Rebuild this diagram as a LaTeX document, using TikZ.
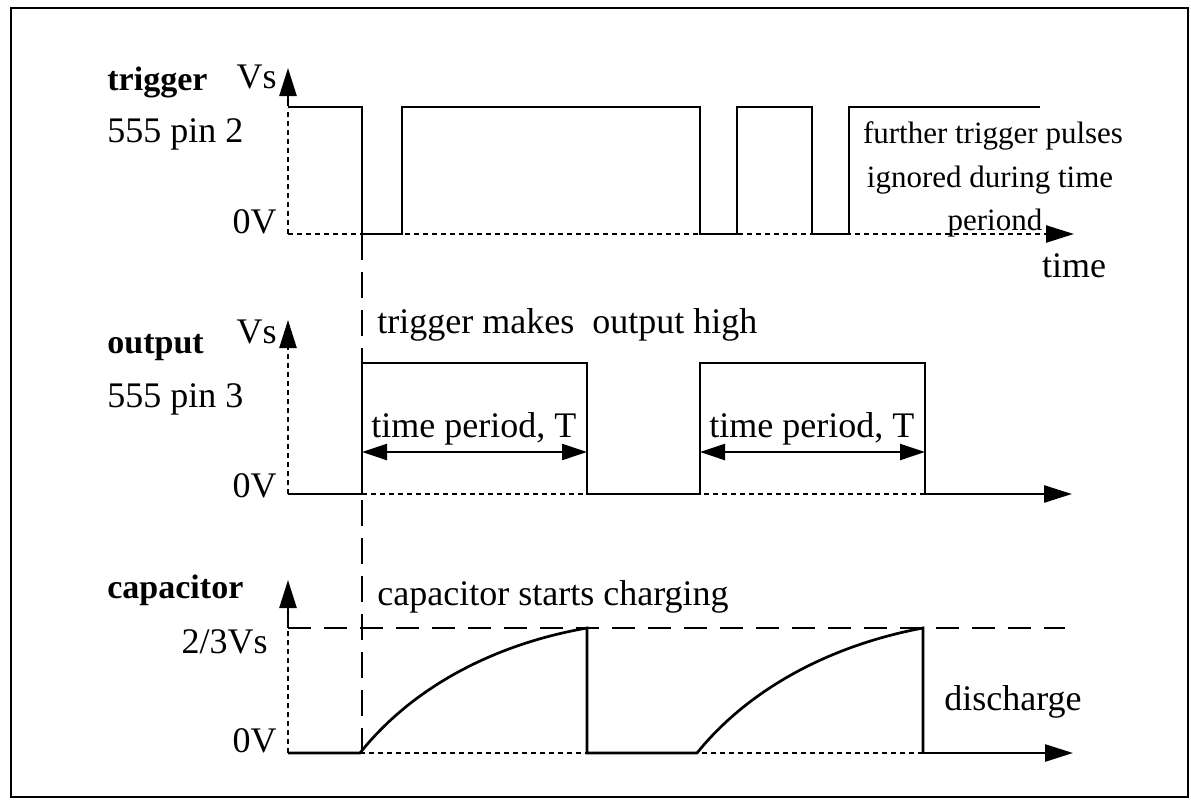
\documentclass[tikz,border=0pt]{standalone}
\usepackage{fontspec}
\setmainfont{Liberation Serif}
\usetikzlibrary{arrows.meta}
\begin{document}
\begin{tikzpicture}[x=0.5pt,y=-0.5pt,
  wave/.style={line width=1.35pt, line join=miter},
  dotline/.style={line width=1.2pt, dash pattern=on 2.5pt off 2pt},
  levelline/.style={line width=1.2pt, dash pattern=on 11.5pt off 6.5pt},
  markline/.style={line width=1.2pt, dash pattern=on 13pt off 6pt},
  tip/.style={-{Triangle[length=14pt,width=8.5pt]}},
  dtip/.style={{Triangle[length=12.5pt,width=8pt]}-{Triangle[length=12.5pt,width=8pt]}},
  lbl/.style={inner sep=0pt, font=\fontsize{18}{20}\selectfont},
  small/.style={inner sep=0pt, font=\fontsize{15.5}{20}\selectfont},
  title/.style={inner sep=0pt, font=\fontsize{17}{20}\selectfont\bfseries},
]
\useasboundingbox (0,0) rectangle (1191,810);
\draw[line width=1.3pt] (11,8) rectangle (1188,797);

% ---------- trigger ----------
\coordinate (tO) at (288,234);
\coordinate (tY) at (288,68);
\coordinate (tX) at (1074,234);
\draw[dotline] (tO) -- (288,108);
\draw[line width=1.2pt, tip] (288,106) -- (tY);
\draw[dotline, tip] (tO) -- (tX);
\draw[wave] (288,107) -| (362,234) -| (402,107) -| (700,234) -| (737,107) -| (812,234) -| (849,107) -- (1040,107);

\node[title, anchor=base west] (trig) at (107,90) {trigger};
\node[lbl, anchor=base east] (tvs) at (277,88) {Vs};
\node[lbl, anchor=base west] (tpin) at (107,142) {555 pin 2};
\node[lbl, anchor=base east] (t0v) at (277,233) {0V};
\node[small, anchor=base] (f1) at (993,143) {further trigger pulses};
\node[small, anchor=base] (f2) at (990,187) {ignored during time};
\node[small, anchor=base] (f3) at (995,230) {periond};
\node[lbl, anchor=base] (time) at (1074,277) {time};

% ---------- marker ----------
\coordinate (m1) at (362,234);
\coordinate (m2) at (362,752);
\draw[markline] (m1) -- (m2);

% ---------- output ----------
\coordinate (oO) at (288,494);
\coordinate (oY) at (288,320);
\draw[dotline] (oO) -- (288,352);
\draw[line width=1.2pt, tip] (288,350) -- (oY);
\draw[dotline] (362,494) -- (925,494);
\draw[wave] (oO) -| (362,363) -| (587,494) -| (700,363) -| (925,494);
\coordinate (oE) at (925,494);
\coordinate (oX) at (1072,494);
\draw[wave, tip] (oE) -- (oX);

\coordinate (p1a) at (362,452);
\coordinate (p1b) at (587,452);
\coordinate (p2a) at (700,452);
\coordinate (p2b) at (925,452);
\draw[line width=1.2pt, dtip] (p1a) -- (p1b);
\draw[line width=1.2pt, dtip] (p2a) -- (p2b);

\node[title, anchor=base west] (outp) at (107,353) {output};
\node[lbl, anchor=base east] (ovs) at (277,343) {Vs};
\node[lbl, anchor=base west] (opin) at (107,407) {555 pin 3};
\node[lbl, anchor=base east] (o0v) at (277,497) {0V};
\node[lbl, anchor=base west] (omk) at (377,333) {trigger makes\ \ output high};
\node[lbl, anchor=base west] (tp1) at (371,437) {time period, T};
\node[lbl, anchor=base west] (tp2) at (709,437) {time period, T};

% ---------- capacitor ----------
\coordinate (cO) at (288,753);
\coordinate (cY) at (288,580);
\draw[dotline] (cO) -- (288,630);
\draw[line width=1.2pt, tip] (288,628) -- (cY);
\coordinate (lvA) at (288,628);
\coordinate (lvB) at (1065,628);
\draw[levelline] (lvA) -- (lvB);
\draw[dotline] (360,753) -- (923,753);
\draw[wave] (cO) -- (360,753) .. controls (410,690) and (490,645) .. (587,628)
  -- (587,753) -- (697,753) .. controls (747,691) and (827,646) .. (923,628) -- (923,753);
\coordinate (cE) at (923,753);
\coordinate (cX) at (1073,753);
\draw[wave, tip] (cE) -- (cX);

\node[title, anchor=base west] (cap) at (107,598) {capacitor};
\node[lbl, anchor=base east] (c23) at (268,653) {2/3Vs};
\node[lbl, anchor=base east] (c0v) at (277,752) {0V};
\node[lbl, anchor=base west] (csc) at (377,605) {capacitor starts charging};
\node[lbl, anchor=base west] (dis) at (944,710) {discharge};
\end{tikzpicture}
\end{document}
